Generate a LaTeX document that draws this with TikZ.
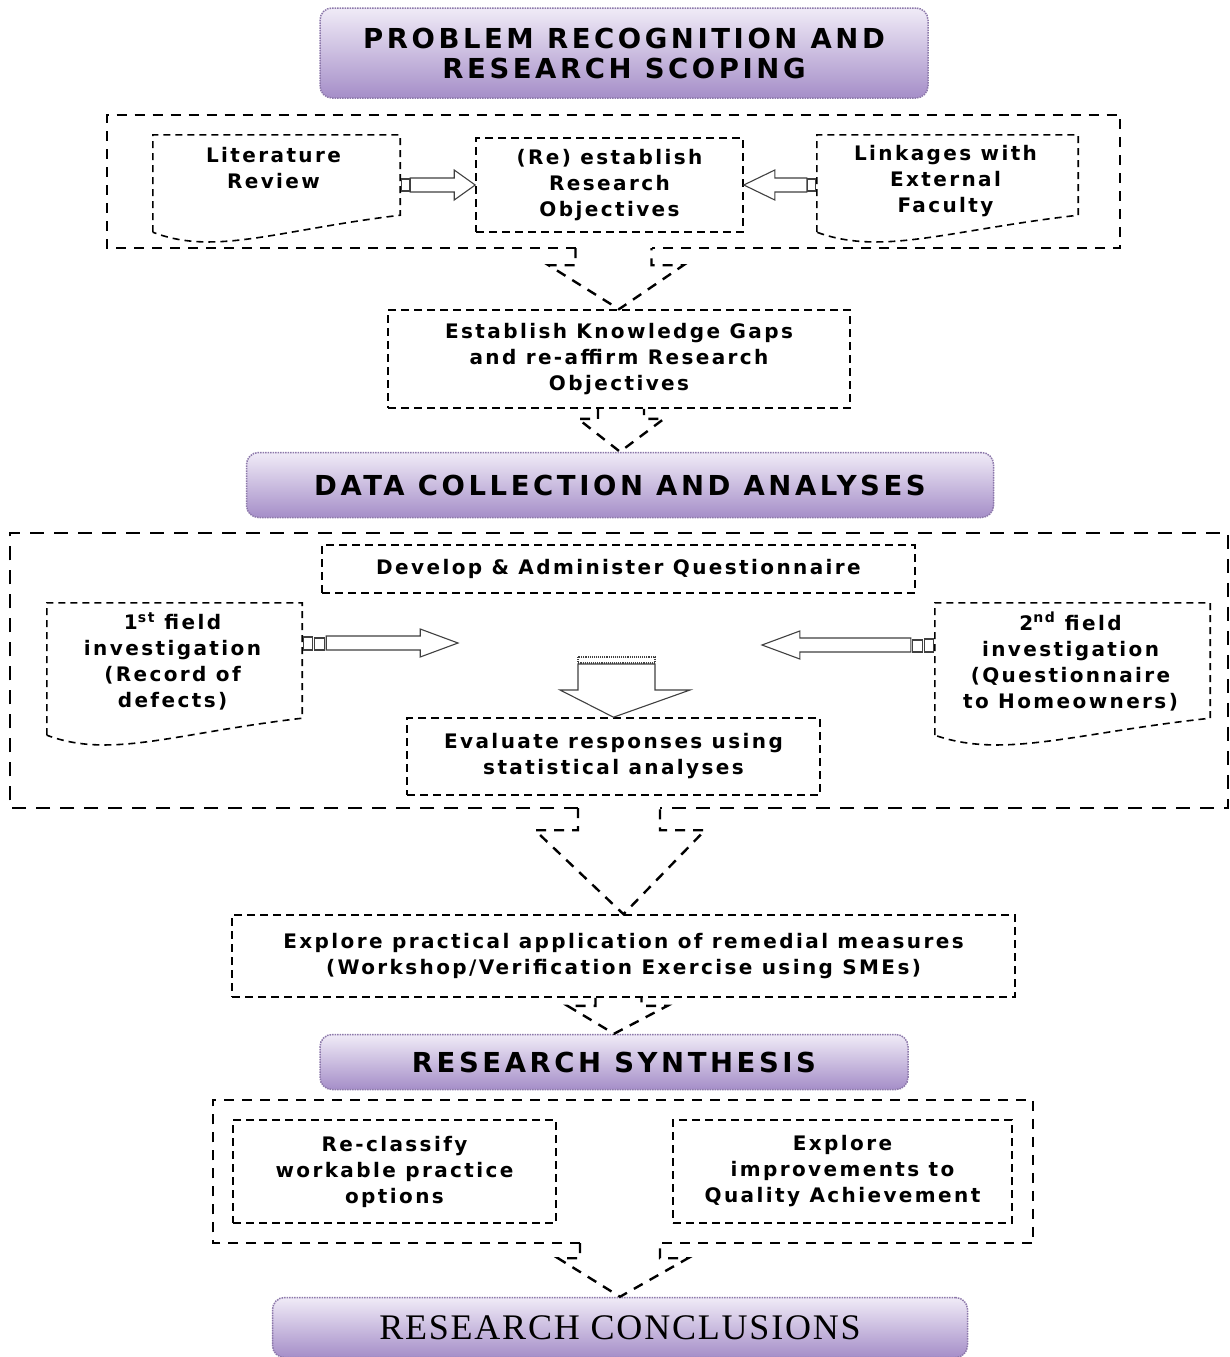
\documentclass[tikz,border=0pt]{standalone}
\usepackage{fontspec}
\setmainfont{DejaVu Sans}[LetterSpace=12]
\newfontfamily\ttlfont{DejaVu Sans}[LetterSpace=13]
\newfontfamily\serifttl{Liberation Serif}[LetterSpace=5]
\usetikzlibrary{calc}
\definecolor{ttop}{RGB}{240,235,247}
\definecolor{tbot}{RGB}{165,142,200}
\definecolor{tedge}{RGB}{140,120,170}
\begin{document}
\begin{tikzpicture}[x=1pt,y=-1pt,
 ttl/.style={draw=tedge, densely dotted, line width=1.5pt, rounded corners=12pt, top color=ttop, bottom color=tbot, font=\ttlfont\bfseries\fontsize{27.5}{30}\selectfont, align=center, inner sep=0pt},
 txt/.style={font=\bfseries\fontsize{20}{26}\selectfont, align=center, inner sep=0pt},
 dbox/.style={txt, draw, line width=1.6pt, dash pattern=on 8pt off 5pt},
 grpframe/.style={draw, line width=2.4pt, dash pattern=on 10pt off 8pt},
 docline/.style={draw, line width=1.6pt, dash pattern=on 7pt off 5pt},
 dasharrow/.style={draw, line width=2.4pt, dash pattern=on 10pt off 8pt, line join=miter},
 blockarrow/.style={draw=black!75, line width=1.1pt, fill=white},
 shapebox/.style={inner sep=0pt},
]
\useasboundingbox (0,0) rectangle (1230,1357);
\fill[white] (0,0) rectangle (1230,1357);

% ---------- Title 1
\node[ttl, minimum width=608, minimum height=90] (t1) at (624,53) {PROBLEM RECOGNITION AND\\RESEARCH SCOPING};

% ---------- Group 1
\node[shapebox, minimum width=1013, minimum height=133] (g1) at (613.5,181.5) {};
\draw[grpframe] ($(g1.south)+(-38,0)$) -- (g1.south west) -- (g1.north west) -- (g1.north east) -- (g1.south east) -- ($(g1.south)+(38,0)$);

\node[shapebox, minimum width=247, minimum height=107] (lit) at (276.5,188.5) {};
\draw[docline] ($(lit.south west)+(0,-10)$) -- (lit.north west) -- (lit.north east) -- ($(lit.south east)+(0,-27)$)
  .. controls ($(lit.south west)!0.5!(lit.south east)+(0,-12)$) and ($(lit.south west)!0.25!(lit.south east)+(0,14)$) .. ($(lit.south west)+(0,-10)$);
\node[txt] (litx) at ($(lit.north)+(-3,33)$) {Literature\\Review};

\node[dbox, minimum width=267, minimum height=94] (reo) at (609.5,185) {(Re) establish\\Research\\Objectives};

\node[shapebox, minimum width=261, minimum height=107] (lnk) at (947.5,188.5) {};
\draw[docline] ($(lnk.south west)+(0,-10)$) -- (lnk.north west) -- (lnk.north east) -- ($(lnk.south east)+(0,-27)$)
  .. controls ($(lnk.south west)!0.5!(lnk.south east)+(0,-12)$) and ($(lnk.south west)!0.25!(lnk.south east)+(0,14)$) .. ($(lnk.south west)+(0,-10)$);
\node[txt] (lnkx) at ($(lnk.north)+(-2,46)$) {Linkages with\\External\\Faculty};

% block arrows group 1
\coordinate (a1) at (lit.east |- reo.west);
\draw[blockarrow] ($(a1)+(1,-6)$) rectangle ($(a1)+(9,6)$);
\draw[blockarrow] ($(a1)+(10,-7)$) -- ($(a1)+(54,-7)$) -- ($(a1)+(54,-15)$) -- (reo.west) -- ($(a1)+(54,15)$) -- ($(a1)+(54,7)$) -- ($(a1)+(10,7)$) -- cycle;
\coordinate (a2) at (lnk.west |- reo.east);
\draw[blockarrow] ($(a2)+(-1,-6)$) rectangle ($(a2)+(-9,6)$);
\draw[blockarrow] ($(a2)+(-10,-7)$) -- ($(a2)+(-42,-7)$) -- ($(a2)+(-42,-15)$) -- (reo.east) -- ($(a2)+(-42,15)$) -- ($(a2)+(-42,7)$) -- ($(a2)+(-10,7)$) -- cycle;

% ---------- Knowledge gaps
\node[dbox, minimum width=462, minimum height=98] (k2) at (619,359) {Establish Knowledge Gaps\\and re-affirm Research\\Objectives};
\draw[dasharrow] ($(g1.south)+(-38,0)$) -- ($(g1.south)+(-38,17)$) -- ($(g1.south)+(-65,17)$) -- (k2.north) -- ($(g1.south)+(70,17)$) -- ($(g1.south)+(38,17)$) -- ($(g1.south)+(38,0)$);

% ---------- Title 2
\node[ttl, minimum width=747, minimum height=65] (t2) at (620,485) {DATA COLLECTION AND ANALYSES};
\draw[dasharrow] ($(k2.south)+(-21,0)$) -- ($(k2.south)+(-21,10)$) -- ($(k2.south)+(-41,10)$) -- (t2.north) -- ($(k2.south)+(45,10)$) -- ($(k2.south)+(25,10)$) -- ($(k2.south)+(25,0)$);

% ---------- Group 2
\node[shapebox, minimum width=1218, minimum height=275] (g2) at (619,670.5) {};
\draw[grpframe, dash pattern=on 14pt off 10pt] ($(g2.south)+(-41,0)$) -- (g2.south west) -- (g2.north west) -- (g2.north east) -- (g2.south east) -- ($(g2.south)+(41,0)$);

\node[dbox, minimum width=593, minimum height=48] (dev) at (618.5,569) {Develop \& Administer Questionnaire};

\node[shapebox, minimum width=255, minimum height=142] (f1) at (174.5,674) {};
\draw[docline] ($(f1.south west)+(0,-10)$) -- (f1.north west) -- (f1.north east) -- ($(f1.south east)+(0,-27)$)
  .. controls ($(f1.south west)!0.5!(f1.south east)+(0,-12)$) and ($(f1.south west)!0.25!(f1.south east)+(0,14)$) .. ($(f1.south west)+(0,-10)$);
\node[txt] (f1x) at ($(f1.north)+(-2,58.5)$) {1\textsuperscript{st} field\\investigation\\(Record of\\defects)};

\node[shapebox, minimum width=275, minimum height=142] (f2) at (1072.5,674) {};
\draw[docline] ($(f2.south west)+(0,-10)$) -- (f2.north west) -- (f2.north east) -- ($(f2.south east)+(0,-27)$)
  .. controls ($(f2.south west)!0.5!(f2.south east)+(0,-12)$) and ($(f2.south west)!0.25!(f2.south east)+(0,14)$) .. ($(f2.south west)+(0,-10)$);
\node[txt] (f2x) at ($(f2.north)+(-2,58.5)$) {2\textsuperscript{nd} field\\investigation\\(Questionnaire\\to Homeowners)};

\node[dbox, minimum width=413, minimum height=77] (ev) at (613.5,756.5) {Evaluate responses using\\statistical analyses};

% block arrows group 2
\coordinate (m1) at (458,643);
\coordinate (b1) at (f1.east |- m1);
\draw[blockarrow] ($(b1)+(1,-6)$) rectangle ($(b1)+(10,7)$);
\draw[blockarrow] ($(b1)+(12,-5)$) rectangle ($(b1)+(22,7)$);
\draw[blockarrow] ($(b1)+(24,-7)$) -- ($(b1)+(118,-7)$) -- ($(b1)+(118,-14)$) -- (m1) -- ($(b1)+(118,14)$) -- ($(b1)+(118,7)$) -- ($(b1)+(24,7)$) -- cycle;

\coordinate (m2) at (762,645);
\coordinate (b2) at (f2.west |- m2);
\draw[blockarrow] ($(b2)+(-1,-6)$) rectangle ($(b2)+(-10,7)$);
\draw[blockarrow] ($(b2)+(-12,-5)$) rectangle ($(b2)+(-22,7)$);
\draw[blockarrow] ($(b2)+(-24,-7)$) -- ($(b2)+(-135,-7)$) -- ($(b2)+(-135,-14)$) -- (m2) -- ($(b2)+(-135,14)$) -- ($(b2)+(-135,7)$) -- ($(b2)+(-24,7)$) -- cycle;

\coordinate (m3) at (616,657);
\draw[blockarrow, densely dotted] ($(m3)+(-38,0)$) rectangle ($(m3)+(39,6)$);
\draw[blockarrow] ($(m3)+(-38,7)$) -- ($(m3)+(-38,33)$) -- ($(m3)+(-56,33)$) -- (ev.north) -- ($(m3)+(74,33)$) -- ($(m3)+(39,33)$) -- ($(m3)+(39,7)$) -- cycle;

% ---------- Explore practical
\node[dbox, minimum width=783, minimum height=82] (k3) at (623.5,956) {Explore practical application of remedial measures\\(Workshop/Verification Exercise using SMEs)};
\draw[dasharrow] ($(g2.south)+(-41,0)$) -- ($(g2.south)+(-41,22)$) -- ($(g2.south)+(-84,22)$) -- (k3.north) -- ($(g2.south)+(86,22)$) -- ($(g2.south)+(41,22)$) -- ($(g2.south)+(41,0)$);

% ---------- Title 3
\node[ttl, minimum width=588, minimum height=55] (t3) at (614,1062) {RESEARCH SYNTHESIS};
\draw[dasharrow] ($(k3.south)+(-28,0)$) -- ($(k3.south)+(-28,8)$) -- ($(k3.south)+(-56,8)$) -- (t3.north) -- ($(k3.south)+(44,8)$) -- ($(k3.south)+(18,8)$) -- ($(k3.south)+(18,0)$);

% ---------- Group 3
\node[shapebox, minimum width=820, minimum height=143] (g3) at (623,1171.5) {};
\draw[grpframe] ($(g3.south)+(-43,0)$) -- (g3.south west) -- (g3.north west) -- (g3.north east) -- (g3.south east) -- ($(g3.south)+(37,0)$);
\node[dbox, minimum width=323, minimum height=103] (rc) at (394.5,1171.5) {Re-classify\\workable practice\\options};
\node[dbox, minimum width=339, minimum height=103] (ex) at (842.5,1171.5) {Explore\\improvements to\\Quality Achievement};

% ---------- Title 4
\node[ttl, minimum width=695, minimum height=60, font=\serifttl\fontsize{36}{40}\selectfont] (t4) at (620,1327.5) {RESEARCH CONCLUSIONS};
\draw[dasharrow] ($(g3.south)+(-43,0)$) -- ($(g3.south)+(-43,15)$) -- ($(g3.south)+(-65,15)$) -- (t4.north) -- ($(g3.south)+(65,15)$) -- ($(g3.south)+(37,15)$) -- ($(g3.south)+(37,0)$);
\end{tikzpicture}
\end{document}
